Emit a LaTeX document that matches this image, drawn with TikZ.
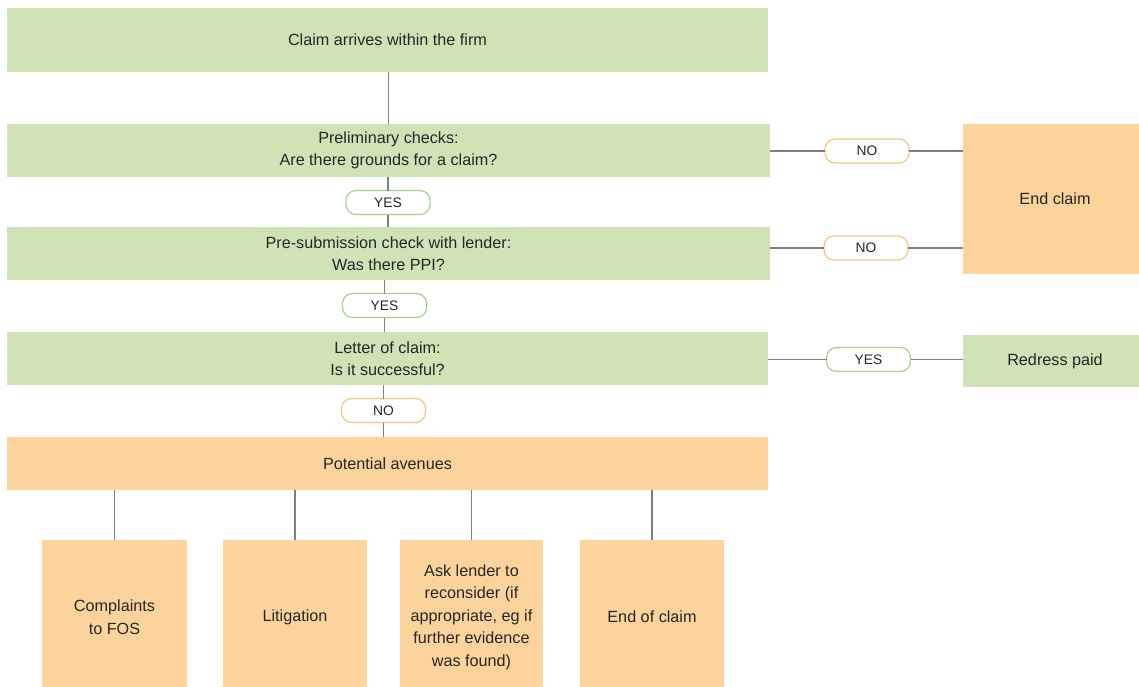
\documentclass[tikz,border=0pt]{standalone}
\usepackage{fontspec}
\setmainfont{Liberation Sans}
\definecolor{gfill}{HTML}{CFE3B7}
\definecolor{ofill}{HTML}{FDD39C}
\definecolor{gpill}{HTML}{A8D08A}
\definecolor{opill}{HTML}{F7C47A}
\definecolor{lin}{HTML}{7F7F7F}
\definecolor{txt}{HTML}{262626}
\begin{document}
\begin{tikzpicture}[x=1pt,y=-1pt,
  every node/.style={font=\fontsize{16.2}{22.5}\selectfont, text=txt, inner sep=0pt, outer sep=0pt},
  gbox/.style={fill=gfill, draw=none, align=center},
  obox/.style={fill=ofill, draw=none, align=center},
  pill/.style={fill=white, draw=#1, line width=1.2pt, rounded corners=10pt, minimum width=84pt, minimum height=24pt, font=\fontsize{13.8}{16}\selectfont},
  conn/.style={draw=lin, line width=1.3pt}]
\useasboundingbox (0,0) rectangle (1139,687);
\begin{scope}
\clip (0,0) rectangle (1139,687);
% main column
\node[gbox, minimum width=761pt, minimum height=64pt] (claim) at (387.5,40) {Claim arrives within the firm};
\node[gbox, minimum width=763pt, minimum height=53pt] (prelim) at (388.5,150.5) {Preliminary checks:\\Are there grounds for a claim?};
\node[pill=gpill] (yes1) at (388,202.5) {YES};
\node[gbox, minimum width=763pt, minimum height=53pt] (presub) at (388.5,253.5) {Pre-submission check with lender:\\Was there PPI?};
\node[pill=gpill] (yes2) at (384.5,305.5) {YES};
\node[gbox, minimum width=761pt, minimum height=53pt] (letter) at (387.5,358.5) {Letter of claim:\\Is it successful?};
\node[pill=opill] (no3) at (383.5,410.5) {NO};
\node[obox, minimum width=761pt, minimum height=53pt] (aven) at (387.5,463.5) {Potential avenues};
% bottom boxes
\node[obox, minimum width=145pt, minimum height=154pt] (fos) at (114.5,617) {Complaints\\to FOS};
\node[obox, minimum width=144pt, minimum height=154pt] (lit) at (295,617) {Litigation};
\node[obox, minimum width=143pt, minimum height=154pt] (ask) at (471.5,617) {Ask lender to\\reconsider (if\\appropriate, eg if\\further evidence\\was found)};
\node[obox, minimum width=144pt, minimum height=154pt] (eoc) at (652,617) {End of claim};
% right side
\node[obox, minimum width=184pt, minimum height=150pt] (endc) at (1055,199) {End claim};
\node[gbox, minimum width=184pt, minimum height=52pt] (redress) at (1055,361) {Redress paid};
\node[pill=opill] (no1) at (867,151) {NO};
\node[pill=opill] (no2) at (866,248) {NO};
\node[pill=gpill] (yes3) at (868.5,359.5) {YES};
% connectors
\draw[conn] (claim.south -| prelim.north) -- (prelim.north);
\draw[conn] (yes1.north |- prelim.south) -- (yes1.north);
\draw[conn] (yes1.south) -- (yes1.south |- presub.north);
\draw[conn] (yes2.north |- presub.south) -- (yes2.north);
\draw[conn] (yes2.south) -- (yes2.south |- letter.north);
\draw[conn] (no3.north |- letter.south) -- (no3.north);
\draw[conn] (no3.south) -- (no3.south |- aven.north);
\draw[conn] (prelim.east |- no1.west) -- (no1.west);
\draw[conn] (no1.east) -- (no1.east -| endc.west);
\draw[conn] (presub.east |- no2.west) -- (no2.west);
\draw[conn] (no2.east) -- (no2.east -| endc.west);
\draw[conn] (letter.east |- yes3.west) -- (yes3.west);
\draw[conn] (yes3.east) -- (yes3.east -| redress.west);
\foreach \b in {fos,lit,ask,eoc}
  \draw[conn] (aven.south -| \b.north) -- (\b.north);
\end{scope}
\end{tikzpicture}
\end{document}
